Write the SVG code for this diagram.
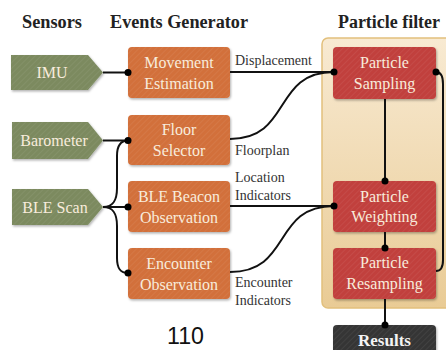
<svg xmlns="http://www.w3.org/2000/svg" width="446" height="350" viewBox="0 0 446 350">
<defs>
  <pattern id="stripe" width="4" height="4" patternUnits="userSpaceOnUse" patternTransform="rotate(45)">
    <rect width="4" height="4" fill="none"/>
    <line x1="0" y1="0" x2="0" y2="4" stroke="#ffffff" stroke-opacity="0.08" stroke-width="1.5"/>
  </pattern>
  <linearGradient id="pf" x1="0" y1="0" x2="0" y2="1">
    <stop offset="0" stop-color="#f8ead2"/>
    <stop offset="1" stop-color="#e9cb95"/>
  </linearGradient>
  <filter id="sh" x="-10%" y="-10%" width="130%" height="140%">
    <feDropShadow dx="1" dy="1.5" stdDeviation="1.2" flood-color="#000" flood-opacity="0.3"/>
  </filter>
  <style>
    .hdr { font-family: "Liberation Serif", "DejaVu Serif", serif; font-weight: bold; font-size: 18px; fill: #222; }
    .nt { font-family: "Liberation Serif", "DejaVu Serif", serif; font-size: 16px; fill: #f8ecdc; text-anchor: middle; }
    .lbl { font-family: "Liberation Serif", "DejaVu Serif", serif; font-size: 14px; fill: #333; }
    .sensor { fill: #7b8a5f; filter: url(#sh); }
    .event { fill: #d2703a; filter: url(#sh); }
    .pfn { fill: #c1403e; filter: url(#sh); }
    .res { fill: #353535; filter: url(#sh); }
    .str { fill: url(#stripe); }
    .ln { fill: none; stroke: #111; stroke-width: 2; }
    .dot { fill: #000; }
  </style>
</defs>
<rect width="446" height="350" fill="#ffffff"/>

<g id="headers">
  <text class="hdr" x="22" y="28" textLength="60" lengthAdjust="spacingAndGlyphs">Sensors</text>
  <text class="hdr" x="110" y="28" textLength="138" lengthAdjust="spacingAndGlyphs">Events Generator</text>
  <text class="hdr" x="338" y="28" textLength="102" lengthAdjust="spacingAndGlyphs">Particle filter</text>
</g>

<g id="particle-filter-container">
  <rect x="322" y="38" width="132" height="270" rx="6" fill="url(#pf)" stroke="#e2c07c" stroke-width="1.5"/>
</g>

<g id="imu">
  <polygon class="sensor" points="11,55 88,55 103,72.5 88,90 11,90"/>
  <polygon class="str" points="11,55 88,55 103,72.5 88,90 11,90"/>
  <text class="nt" x="52" y="78">IMU</text>
</g>
<g id="barometer">
  <polygon class="sensor" points="12,122 88,122 103,140.5 88,159 12,159"/>
  <polygon class="str" points="12,122 88,122 103,140.5 88,159 12,159"/>
  <text class="nt" x="54" y="146">Barometer</text>
</g>
<g id="ble-scan">
  <polygon class="sensor" points="12,189 88,189 103,207 88,225 12,225"/>
  <polygon class="str" points="12,189 88,189 103,207 88,225 12,225"/>
  <text class="nt" x="55" y="212.5">BLE Scan</text>
</g>

<g id="movement-estimation">
  <rect class="event" x="128" y="47" width="102" height="51" rx="4"/>
  <rect class="str" x="128" y="47" width="102" height="51" rx="4"/>
  <text class="nt" x="179" y="68">Movement</text>
  <text class="nt" x="179" y="89">Estimation</text>
</g>
<g id="floor-selector">
  <rect class="event" x="128" y="115" width="102" height="50" rx="4"/>
  <rect class="str" x="128" y="115" width="102" height="50" rx="4"/>
  <text class="nt" x="179" y="135">Floor</text>
  <text class="nt" x="179" y="156">Selector</text>
</g>
<g id="ble-beacon-observation">
  <rect class="event" x="128" y="181" width="102" height="51" rx="4"/>
  <rect class="str" x="128" y="181" width="102" height="51" rx="4"/>
  <text class="nt" x="179" y="202">BLE Beacon</text>
  <text class="nt" x="179" y="223">Observation</text>
</g>
<g id="encounter-observation">
  <rect class="event" x="128" y="248" width="102" height="51" rx="4"/>
  <rect class="str" x="128" y="248" width="102" height="51" rx="4"/>
  <text class="nt" x="179" y="269">Encounter</text>
  <text class="nt" x="179" y="290">Observation</text>
</g>

<g id="particle-sampling">
  <rect class="pfn" x="333" y="47" width="103" height="52" rx="4"/>
  <rect class="str" x="333" y="47" width="103" height="52" rx="4"/>
  <text class="nt" x="384.5" y="68">Particle</text>
  <text class="nt" x="384.5" y="89">Sampling</text>
</g>
<g id="particle-weighting">
  <rect class="pfn" x="333" y="181" width="103" height="51" rx="4"/>
  <rect class="str" x="333" y="181" width="103" height="51" rx="4"/>
  <text class="nt" x="384.5" y="202">Particle</text>
  <text class="nt" x="384.5" y="222">Weighting</text>
</g>
<g id="particle-resampling">
  <rect class="pfn" x="333" y="248" width="103" height="51" rx="4"/>
  <rect class="str" x="333" y="248" width="103" height="51" rx="4"/>
  <text class="nt" x="384.5" y="268">Particle</text>
  <text class="nt" x="384.5" y="289">Resampling</text>
</g>
<g id="results">
  <rect class="res" x="333" y="325" width="103" height="40" rx="4"/>
  <rect class="str" x="333" y="325" width="103" height="40" rx="4"/>
  <text x="384.5" y="346" text-anchor="middle" font-family="Liberation Serif, DejaVu Serif, serif" font-weight="bold" font-size="17" fill="#f4f4f4">Results</text>
</g>

<g id="connectors">
  <path class="ln" d="M103,72.5 H128"/>
  <path class="ln" d="M103,140.5 H128"/>
  <path class="ln" d="M103,207 H128"/>
  <path class="ln" d="M103,207 C113,207 117,201 117,188 L117,156 C117,146 120,140.5 128,140.5"/>
  <path class="ln" d="M103,207 C113,207 117,213 117,226 L117,258 C117,268 120,273 128,273"/>
  <path class="ln" d="M230,72 H334"/>
  <path class="ln" d="M230,139 C292,139 272,72 334,72"/>
  <path class="ln" d="M230,206 H334"/>
  <path class="ln" d="M230,272 C292,272 272,206 334,206"/>
  <path class="ln" d="M385,99 V181"/>
  <path class="ln" d="M385,232 V248"/>
  <path class="ln" d="M385,299 V325"/>
  <path class="ln" d="M436,271 C441,271 443,267 443,260 L443,84 C443,76 441,72 436,72"/>
  <circle class="dot" cx="128" cy="72.5" r="3.5"/>
  <circle class="dot" cx="128" cy="140.5" r="3.5"/>
  <circle class="dot" cx="128" cy="207" r="3.5"/>
  <circle class="dot" cx="128" cy="273" r="3.5"/>
  <circle class="dot" cx="334" cy="72" r="3.5"/>
  <circle class="dot" cx="334" cy="206" r="3.5"/>
  <circle class="dot" cx="436" cy="72" r="3.5"/>
  <circle class="dot" cx="385" cy="181" r="3.5"/>
  <circle class="dot" cx="385" cy="248" r="3.5"/>
  <circle class="dot" cx="385" cy="325" r="3.5"/>
  <text class="lbl" x="235" y="65">Displacement</text>
  <text class="lbl" x="235" y="155">Floorplan</text>
  <text class="lbl" x="235" y="182">Location</text>
  <text class="lbl" x="235" y="200">Indicators</text>
  <text class="lbl" x="235" y="287">Encounter</text>
  <text class="lbl" x="235" y="305">Indicators</text>
</g>

<text x="167" y="344" font-family="Liberation Sans, Arial, sans-serif" font-size="23" fill="#111" textLength="37" lengthAdjust="spacingAndGlyphs">110</text>
</svg>
